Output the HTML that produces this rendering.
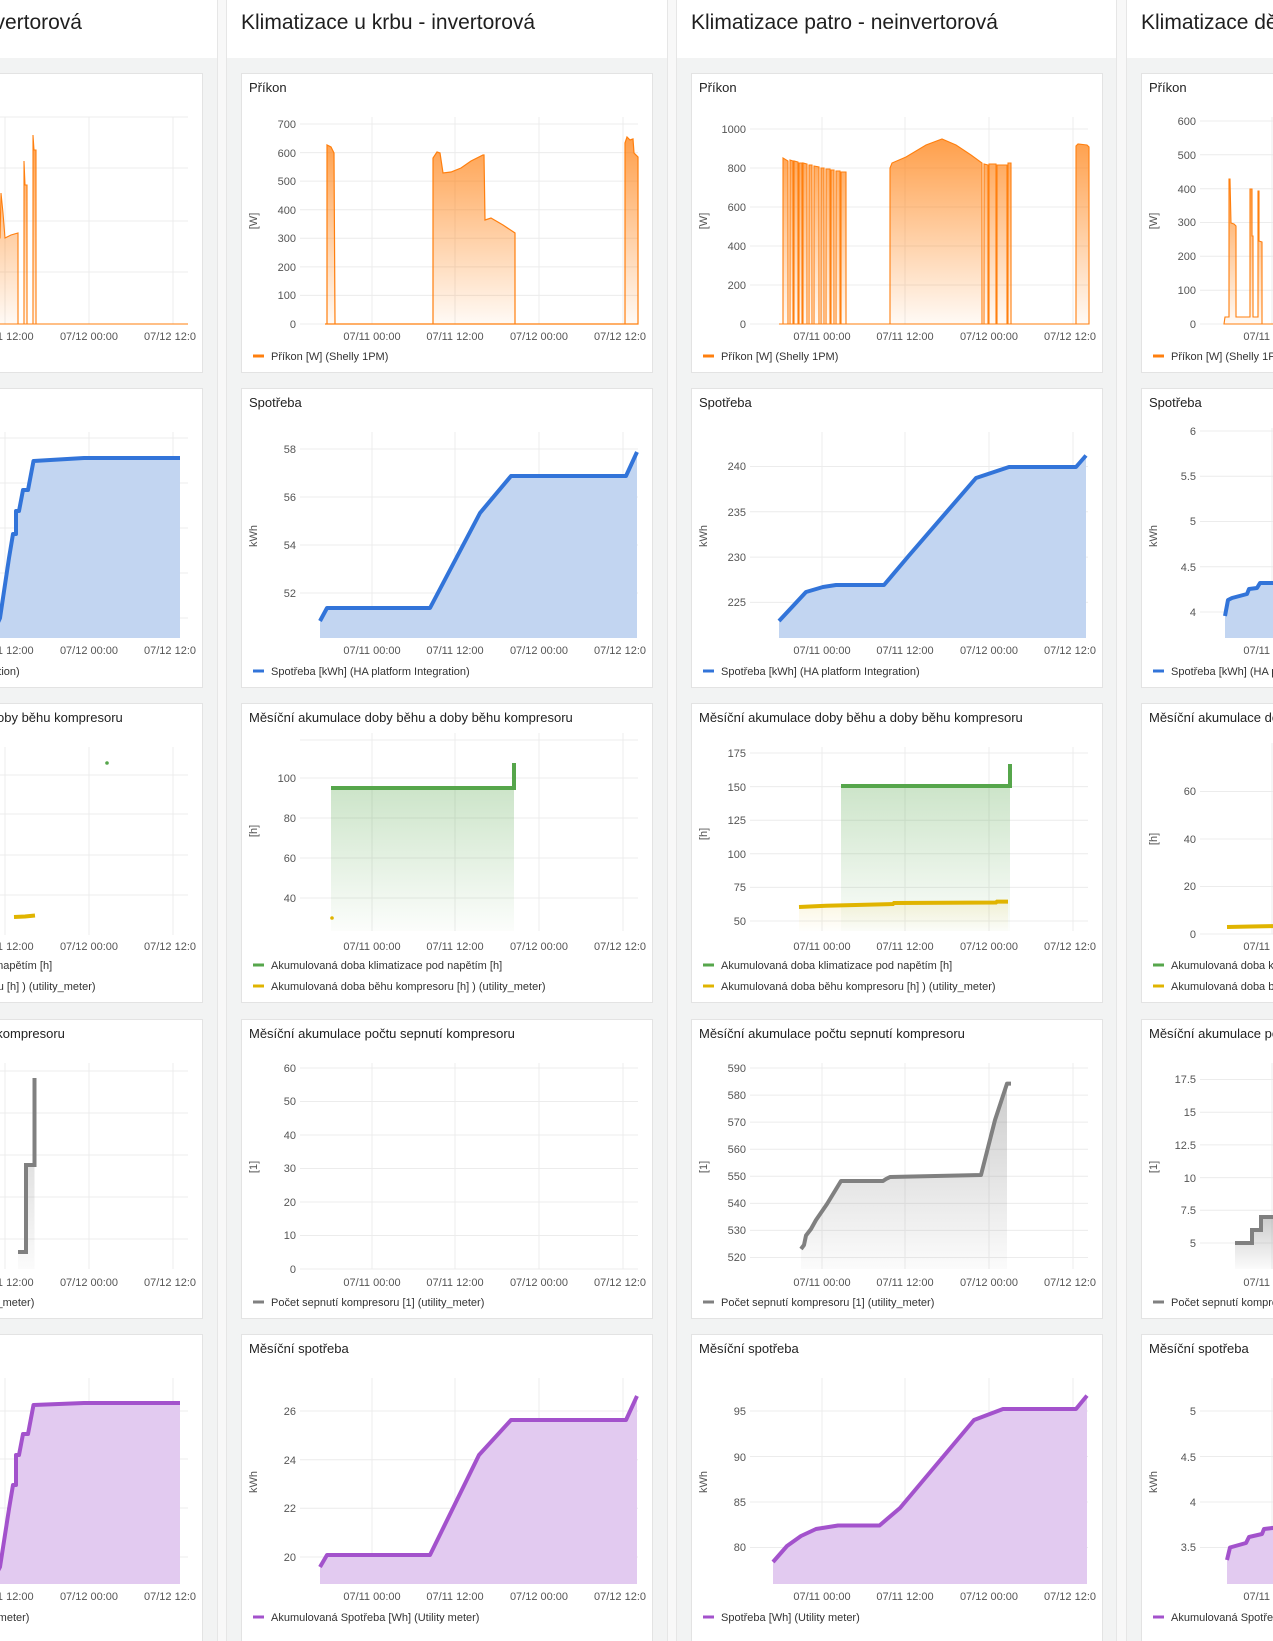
<!DOCTYPE html>
<html><head><meta charset="utf-8">
<style>
html,body{margin:0;padding:0;background:#f2f3f3;}
svg{display:block;font-family:"Liberation Sans",sans-serif;}
.h{font-size:21px;fill:#1f1f1f;}
.t{font-size:13px;fill:#222;}
.tk{font-size:11px;fill:#555;}
.lg{font-size:11px;fill:#333;}
.g{stroke:#ececec;stroke-width:1;fill:none;}
</style></head><body>
<svg width="1273" height="1641" viewBox="0 0 1273 1641" xmlns="http://www.w3.org/2000/svg">
<defs>
<linearGradient id="og" x1="0" y1="0" x2="0" y2="1"><stop offset="0" stop-color="#ff7f0e" stop-opacity="0.75"/><stop offset="1" stop-color="#ff7f0e" stop-opacity="0.04"/></linearGradient>
<linearGradient id="gg" x1="0" y1="0" x2="0" y2="1"><stop offset="0" stop-color="#56a64b" stop-opacity="0.3"/><stop offset="1" stop-color="#56a64b" stop-opacity="0.02"/></linearGradient>
<linearGradient id="yg" x1="0" y1="0" x2="0" y2="1"><stop offset="0" stop-color="#e0b400" stop-opacity="0.12"/><stop offset="1" stop-color="#e0b400" stop-opacity="0.01"/></linearGradient>
<linearGradient id="sg" x1="0" y1="0" x2="0" y2="1"><stop offset="0" stop-color="#808080" stop-opacity="0.4"/><stop offset="1" stop-color="#808080" stop-opacity="0.03"/></linearGradient>
</defs>

<rect x="217" y="0" width="9" height="1641" fill="#f8f8f8"/>
<rect x="667" y="0" width="9" height="1641" fill="#f8f8f8"/>
<rect x="1116" y="0" width="10" height="1641" fill="#f8f8f8"/>
<line x1="217.5" y1="0" x2="217.5" y2="1641" stroke="#e6e6e6"/>
<line x1="226.5" y1="0" x2="226.5" y2="1641" stroke="#e6e6e6"/>
<line x1="667.5" y1="0" x2="667.5" y2="1641" stroke="#e6e6e6"/>
<line x1="676.5" y1="0" x2="676.5" y2="1641" stroke="#e6e6e6"/>
<line x1="1116.5" y1="0" x2="1116.5" y2="1641" stroke="#e6e6e6"/>
<line x1="1126.5" y1="0" x2="1126.5" y2="1641" stroke="#e6e6e6"/>
<rect x="0" y="0" width="217" height="58" fill="#fff"/>
<rect x="227" y="0" width="440" height="58" fill="#fff"/>
<rect x="677" y="0" width="439" height="58" fill="#fff"/>
<rect x="1127" y="0" width="146" height="58" fill="#fff"/>
<text class="h" x="82" y="29" text-anchor="end">Klimatizace ložnice - invertorová</text>
<text class="h" x="241" y="29">Klimatizace u krbu - invertorová</text>
<text class="h" x="691" y="29">Klimatizace patro - neinvertorová</text>
<text class="h" x="1141" y="29">Klimatizace dětský pokoj</text>

<!-- ================= COLUMN 2 ================= -->
<g transform="translate(241,73)">
<rect x="0.5" y="0.5" width="411" height="299" fill="#fff" stroke="#e3e3e3"/>
<text class="t" x="8" y="19">Příkon</text>
<g class="g"><path d="M59,251H397M59,222.4H397M59,193.9H397M59,165.3H397M59,136.7H397M59,108.1H397M59,79.6H397M59,51H397M131,44V251M214,44V251M298,44V251M382,44V251"/></g>
<g class="tk" text-anchor="end"><text x="55" y="255">0</text><text x="55" y="226">100</text><text x="55" y="198">200</text><text x="55" y="169">300</text><text x="55" y="141">400</text><text x="55" y="112">500</text><text x="55" y="84">600</text><text x="55" y="55">700</text></g>
<text class="tk" transform="translate(16,148) rotate(-90)" text-anchor="middle">[W]</text>
<g class="tk" text-anchor="middle"><text x="131" y="267">07/11 00:00</text><text x="214" y="267">07/11 12:00</text><text x="298" y="267">07/12 00:00</text></g><text class="tk" x="353" y="267">07/12 12:0</text>
<path d="M84,251L86,251L86,72L90,74L93,80L94,251L192,251L192,85L196,79L199,80L202,100L210,99L220,95L230,88L242,82L243,82L244,147L250,145L262,152L274,160L274,251L384,251L384,70L386,64L389,67L392,66L393,80L397,84L397,251Z" fill="url(#og)" stroke="#ff7f0e" stroke-width="1.2"/>
<line x1="12" y1="283" x2="23" y2="283" stroke="#ff7f0e" stroke-width="3"/><text class="lg" x="30" y="287">Příkon [W] (Shelly 1PM)</text>
</g>

<g transform="translate(241,388)">
<rect x="0.5" y="0.5" width="411" height="299" fill="#fff" stroke="#e3e3e3"/>
<text class="t" x="8" y="19">Spotřeba</text>
<g class="g"><path d="M59,205H397M59,157H397M59,109H397M59,61H397M131,44V250M214,44V250M298,44V250M382,44V250"/></g>
<g class="tk" text-anchor="end"><text x="55" y="209">52</text><text x="55" y="161">54</text><text x="55" y="113">56</text><text x="55" y="65">58</text></g>
<text class="tk" transform="translate(16,148) rotate(-90)" text-anchor="middle">kWh</text>
<g class="tk" text-anchor="middle"><text x="131" y="266">07/11 00:00</text><text x="214" y="266">07/11 12:00</text><text x="298" y="266">07/12 00:00</text></g><text class="tk" x="353" y="266">07/12 12:0</text>
<path d="M79,233L86,220L189,220L239,125L270,88L385,88L396,64L396,250L79,250Z" fill="#c2d5f1"/>
<path d="M79,233L86,220L189,220L239,125L270,88L385,88L396,64" fill="none" stroke="#3274d9" stroke-width="4" stroke-linejoin="round"/>
<line x1="12" y1="283" x2="23" y2="283" stroke="#3274d9" stroke-width="3"/><text class="lg" x="30" y="287">Spotřeba [kWh] (HA platform Integration)</text>
</g>

<g transform="translate(241,703)">
<rect x="0.5" y="0.5" width="411" height="299" fill="#fff" stroke="#e3e3e3"/>
<text class="t" x="8" y="19">Měsíční akumulace doby běhu a doby běhu kompresoru</text>
<g class="g"><path d="M59,195H397M59,155H397M59,115H397M59,75H397M59,37H397M131,30V228M214,30V228M298,30V228M382,30V228"/></g>
<g class="tk" text-anchor="end"><text x="55" y="199">40</text><text x="55" y="159">60</text><text x="55" y="119">80</text><text x="55" y="79">100</text></g>
<text class="tk" transform="translate(16,128) rotate(-90)" text-anchor="middle">[h]</text>
<g class="tk" text-anchor="middle"><text x="131" y="247">07/11 00:00</text><text x="214" y="247">07/11 12:00</text><text x="298" y="247">07/12 00:00</text></g><text class="tk" x="353" y="247">07/12 12:0</text>
<path d="M90,85L273,85L273,228L90,228Z" fill="url(#gg)"/>
<path d="M90,85L273,85L273,60" fill="none" stroke="#56a64b" stroke-width="4"/>
<circle cx="91" cy="215" r="1.8" fill="#e0b400"/>
<line x1="12" y1="262" x2="23" y2="262" stroke="#56a64b" stroke-width="3"/><text class="lg" x="30" y="266">Akumulovaná doba klimatizace pod napětím [h]</text>
<line x1="12" y1="283" x2="23" y2="283" stroke="#e0b400" stroke-width="3"/><text class="lg" x="30" y="287">Akumulovaná doba běhu kompresoru [h] ) (utility_meter)</text>
</g>

<g transform="translate(241,1019)">
<rect x="0.5" y="0.5" width="411" height="299" fill="#fff" stroke="#e3e3e3"/>
<text class="t" x="8" y="19">Měsíční akumulace počtu sepnutí kompresoru</text>
<g class="g"><path d="M59,250H397M59,216.5H397M59,183H397M59,149.5H397M59,116H397M59,82.5H397M59,49H397M131,44V250M214,44V250M298,44V250M382,44V250"/></g>
<g class="tk" text-anchor="end"><text x="55" y="254">0</text><text x="55" y="220">10</text><text x="55" y="187">20</text><text x="55" y="153">30</text><text x="55" y="120">40</text><text x="55" y="86">50</text><text x="55" y="53">60</text></g>
<text class="tk" transform="translate(16,148) rotate(-90)" text-anchor="middle">[1]</text>
<g class="tk" text-anchor="middle"><text x="131" y="267">07/11 00:00</text><text x="214" y="267">07/11 12:00</text><text x="298" y="267">07/12 00:00</text></g><text class="tk" x="353" y="267">07/12 12:0</text>
<line x1="12" y1="283" x2="23" y2="283" stroke="#808080" stroke-width="3"/><text class="lg" x="30" y="287">Počet sepnutí kompresoru [1] (utility_meter)</text>
</g>

<g transform="translate(241,1334)">
<rect x="0.5" y="0.5" width="411" height="310" fill="#fff" stroke="#e3e3e3"/>
<text class="t" x="8" y="19">Měsíční spotřeba</text>
<g class="g"><path d="M59,223H397M59,174.3H397M59,125.7H397M59,77H397M131,44V250M214,44V250M298,44V250M382,44V250"/></g>
<g class="tk" text-anchor="end"><text x="55" y="227">20</text><text x="55" y="178">22</text><text x="55" y="130">24</text><text x="55" y="81">26</text></g>
<text class="tk" transform="translate(16,148) rotate(-90)" text-anchor="middle">kWh</text>
<g class="tk" text-anchor="middle"><text x="131" y="266">07/11 00:00</text><text x="214" y="266">07/11 12:00</text><text x="298" y="266">07/12 00:00</text></g><text class="tk" x="353" y="266">07/12 12:0</text>
<path d="M79,233L86,221L189,221L238,121L270,86L385,86L396,62L396,250L79,250Z" fill="#e2caf0"/>
<path d="M79,233L86,221L189,221L238,121L270,86L385,86L396,62" fill="none" stroke="#a352cc" stroke-width="4" stroke-linejoin="round"/>
<line x1="12" y1="283" x2="23" y2="283" stroke="#a352cc" stroke-width="3"/><text class="lg" x="30" y="287">Akumulovaná Spotřeba [Wh] (Utility meter)</text>
</g>

<!-- ================= COLUMN 3 ================= -->
<g transform="translate(691,73)">
<rect x="0.5" y="0.5" width="411" height="299" fill="#fff" stroke="#e3e3e3"/>
<text class="t" x="8" y="19">Příkon</text>
<g class="g"><path d="M59,251H397M59,212H397M59,173H397M59,134H397M59,95H397M59,56H397M131,44V251M214,44V251M298,44V251M382,44V251"/></g>
<g class="tk" text-anchor="end"><text x="55" y="255">0</text><text x="55" y="216">200</text><text x="55" y="177">400</text><text x="55" y="138">600</text><text x="55" y="99">800</text><text x="55" y="60">1000</text></g>
<text class="tk" transform="translate(16,148) rotate(-90)" text-anchor="middle">[W]</text>
<g class="tk" text-anchor="middle"><text x="131" y="267">07/11 00:00</text><text x="214" y="267">07/11 12:00</text><text x="298" y="267">07/12 00:00</text></g><text class="tk" x="353" y="267">07/12 12:0</text>
<path d="M88,251L92,251L92,85L97,88L97,251L99,251L99,87L102,88L102,251L103,251L103,88L107,89L107,251L108,251L108,90L111,90L111,251L112,251L112,90L116,91L116,251L118,251L118,92L121,92L121,251L123,251L123,93L128,94L128,251L130,251L130,95L133,95L133,251L135,251L135,96L139,96L139,251L140,251L140,97L143,97L143,251L145,251L145,98L149,98L149,251L150,251L150,99L155,99L155,251L199,251L199,95L201,90L215,84L235,72L251,66L265,72L280,82L291,90L291,251L293,251L293,91L297,92L297,251L298,251L298,91L305,91L305,251L306,251L306,92L316,92L316,251L317,251L317,90L320,90L320,251L385,251L385,73L387,71L396,72L398,74L398,251Z" fill="url(#og)" stroke="#ff7f0e" stroke-width="1.1"/>
<line x1="12" y1="283" x2="23" y2="283" stroke="#ff7f0e" stroke-width="3"/><text class="lg" x="30" y="287">Příkon [W] (Shelly 1PM)</text>
</g>

<g transform="translate(691,388)">
<rect x="0.5" y="0.5" width="411" height="299" fill="#fff" stroke="#e3e3e3"/>
<text class="t" x="8" y="19">Spotřeba</text>
<g class="g"><path d="M59,214.4H397M59,169.1H397M59,123.8H397M59,78.5H397M131,44V250M214,44V250M298,44V250M382,44V250"/></g>
<g class="tk" text-anchor="end"><text x="55" y="218">225</text><text x="55" y="173">230</text><text x="55" y="128">235</text><text x="55" y="82">240</text></g>
<text class="tk" transform="translate(16,148) rotate(-90)" text-anchor="middle">kWh</text>
<g class="tk" text-anchor="middle"><text x="131" y="266">07/11 00:00</text><text x="214" y="266">07/11 12:00</text><text x="298" y="266">07/12 00:00</text></g><text class="tk" x="353" y="266">07/12 12:0</text>
<path d="M88,233L102,218L115,204L132,199L145,197L193,197L218,167.5L285,90L318,79L385,79L395,67.5L395,250L88,250Z" fill="#c2d5f1"/>
<path d="M88,233L102,218L115,204L132,199L145,197L193,197L218,167.5L285,90L318,79L385,79L395,67.5" fill="none" stroke="#3274d9" stroke-width="4" stroke-linejoin="round"/>
<line x1="12" y1="283" x2="23" y2="283" stroke="#3274d9" stroke-width="3"/><text class="lg" x="30" y="287">Spotřeba [kWh] (HA platform Integration)</text>
</g>

<g transform="translate(691,703)">
<rect x="0.5" y="0.5" width="411" height="299" fill="#fff" stroke="#e3e3e3"/>
<text class="t" x="8" y="19">Měsíční akumulace doby běhu a doby běhu kompresoru</text>
<g class="g"><path d="M59,218H397M59,184.4H397M59,150.8H397M59,117.2H397M59,83.6H397M59,50H397M131,44V228M214,44V228M298,44V228M382,44V228"/></g>
<g class="tk" text-anchor="end"><text x="55" y="222">50</text><text x="55" y="188">75</text><text x="55" y="155">100</text><text x="55" y="121">125</text><text x="55" y="88">150</text><text x="55" y="54">175</text></g>
<text class="tk" transform="translate(16,131) rotate(-90)" text-anchor="middle">[h]</text>
<g class="tk" text-anchor="middle"><text x="131" y="247">07/11 00:00</text><text x="214" y="247">07/11 12:00</text><text x="298" y="247">07/12 00:00</text></g><text class="tk" x="353" y="247">07/12 12:0</text>
<path d="M150,83L319,83L319,228L150,228Z" fill="url(#gg)"/>
<path d="M108,204L135,202.7L202,200L305,198.6L317,198.6L317,228L108,228Z" fill="url(#yg)"/>
<path d="M150,83L319,83L319,61" fill="none" stroke="#56a64b" stroke-width="4"/>
<path d="M108,204L135,202.7L202,201L203,200L305,199.5L306,198.6L317,198.6" fill="none" stroke="#e0b400" stroke-width="4"/>
<line x1="12" y1="262" x2="23" y2="262" stroke="#56a64b" stroke-width="3"/><text class="lg" x="30" y="266">Akumulovaná doba klimatizace pod napětím [h]</text>
<line x1="12" y1="283" x2="23" y2="283" stroke="#e0b400" stroke-width="3"/><text class="lg" x="30" y="287">Akumulovaná doba běhu kompresoru [h] ) (utility_meter)</text>
</g>

<g transform="translate(691,1019)">
<rect x="0.5" y="0.5" width="411" height="299" fill="#fff" stroke="#e3e3e3"/>
<text class="t" x="8" y="19">Měsíční akumulace počtu sepnutí kompresoru</text>
<g class="g"><path d="M59,238.5H397M59,211.4H397M59,184.4H397M59,157.3H397M59,130.2H397M59,103.1H397M59,76.1H397M59,49H397M131,44V250M214,44V250M298,44V250M382,44V250"/></g>
<g class="tk" text-anchor="end"><text x="55" y="242">520</text><text x="55" y="215">530</text><text x="55" y="188">540</text><text x="55" y="161">550</text><text x="55" y="134">560</text><text x="55" y="107">570</text><text x="55" y="80">580</text><text x="55" y="53">590</text></g>
<text class="tk" transform="translate(16,148) rotate(-90)" text-anchor="middle">[1]</text>
<g class="tk" text-anchor="middle"><text x="131" y="267">07/11 00:00</text><text x="214" y="267">07/11 12:00</text><text x="298" y="267">07/12 00:00</text></g><text class="tk" x="353" y="267">07/12 12:0</text>
<path d="M110,230L113,226L115,216.5L120,210L125,201L136,185L150,162L192,162L195,160L199,158L290,156L304,101L316,64.6L316,250L110,250Z" fill="url(#sg)"/>
<path d="M110,230L113,226L115,216.5L120,210L125,201L136,185L150,162L192,162L195,160L199,158L290,156L304,101L316,64.6L320,64.6" fill="none" stroke="#808080" stroke-width="4" stroke-linejoin="round"/>
<line x1="12" y1="283" x2="23" y2="283" stroke="#808080" stroke-width="3"/><text class="lg" x="30" y="287">Počet sepnutí kompresoru [1] (utility_meter)</text>
</g>

<g transform="translate(691,1334)">
<rect x="0.5" y="0.5" width="411" height="310" fill="#fff" stroke="#e3e3e3"/>
<text class="t" x="8" y="19">Měsíční spotřeba</text>
<g class="g"><path d="M59,213.5H397M59,168H397M59,122.5H397M59,77H397M131,44V250M214,44V250M298,44V250M382,44V250"/></g>
<g class="tk" text-anchor="end"><text x="55" y="217">80</text><text x="55" y="172">85</text><text x="55" y="127">90</text><text x="55" y="81">95</text></g>
<text class="tk" transform="translate(16,148) rotate(-90)" text-anchor="middle">kWh</text>
<g class="tk" text-anchor="middle"><text x="131" y="266">07/11 00:00</text><text x="214" y="266">07/11 12:00</text><text x="298" y="266">07/12 00:00</text></g><text class="tk" x="353" y="266">07/12 12:0</text>
<path d="M82,228L96,212L110,202L125,195L147,191.5L188.5,191.5L209,174L283,86L312,75L385,75L396,61.6L396,250L82,250Z" fill="#e2caf0"/>
<path d="M82,228L96,212L110,202L125,195L147,191.5L188.5,191.5L209,174L283,86L312,75L385,75L396,61.6" fill="none" stroke="#a352cc" stroke-width="4" stroke-linejoin="round"/>
<line x1="12" y1="283" x2="23" y2="283" stroke="#a352cc" stroke-width="3"/><text class="lg" x="30" y="287">Spotřeba [Wh] (Utility meter)</text>
</g>

<!-- ================= COLUMN 4 ================= -->
<g transform="translate(1141,73)">
<rect x="0.5" y="0.5" width="411" height="299" fill="#fff" stroke="#e3e3e3"/>
<text class="t" x="8" y="19">Příkon</text>
<g class="g"><path d="M59,251H397M59,217.2H397M59,183.3H397M59,149.5H397M59,115.7H397M59,81.8H397M59,48H397M131,44V251"/></g>
<g class="tk" text-anchor="end"><text x="55" y="255">0</text><text x="55" y="221">100</text><text x="55" y="187">200</text><text x="55" y="153">300</text><text x="55" y="120">400</text><text x="55" y="86">500</text><text x="55" y="52">600</text></g>
<text class="tk" transform="translate(16,148) rotate(-90)" text-anchor="middle">[W]</text>
<text class="tk" x="131" y="267" text-anchor="middle">07/11 00:00</text>
<path d="M83,251L84,244L88,244L88,106L89,106L90,150L93,151L95,153L95,244L109,244L109,116L111,116L111,163L112,163L112,244L117,244L117,118L118,118L118,168L121,169L121,251L140,251Z" fill="url(#og)" stroke="#ff7f0e" stroke-width="1.1"/>
<line x1="12" y1="283" x2="23" y2="283" stroke="#ff7f0e" stroke-width="3"/><text class="lg" x="30" y="287">Příkon [W] (Shelly 1PM)</text>
</g>

<g transform="translate(1141,388)">
<rect x="0.5" y="0.5" width="411" height="299" fill="#fff" stroke="#e3e3e3"/>
<text class="t" x="8" y="19">Spotřeba</text>
<g class="g"><path d="M59,224H397M59,178.8H397M59,133.5H397M59,88.3H397M59,43H397M131,40V250"/></g>
<g class="tk" text-anchor="end"><text x="55" y="228">4</text><text x="55" y="183">4.5</text><text x="55" y="137">5</text><text x="55" y="92">5.5</text><text x="55" y="47">6</text></g>
<text class="tk" transform="translate(16,148) rotate(-90)" text-anchor="middle">kWh</text>
<text class="tk" x="131" y="266" text-anchor="middle">07/11 00:00</text>
<path d="M84,228L87,212L91,210L106,206L108,201L116,200L119,195L140,195L140,250L84,250Z" fill="#c2d5f1"/>
<path d="M84,228L87,212L91,210L106,206L108,201L116,200L119,195L140,195" fill="none" stroke="#3274d9" stroke-width="4" stroke-linejoin="round"/>
<line x1="12" y1="283" x2="23" y2="283" stroke="#3274d9" stroke-width="3"/><text class="lg" x="30" y="287">Spotřeba [kWh] (HA platform Integration)</text>
</g>

<g transform="translate(1141,703)">
<rect x="0.5" y="0.5" width="411" height="299" fill="#fff" stroke="#e3e3e3"/>
<text class="t" x="8" y="19">Měsíční akumulace doby běhu a doby běhu kompresoru</text>
<g class="g"><path d="M59,231H397M59,183.5H397M59,136H397M59,88.5H397M131,40V231"/></g>
<g class="tk" text-anchor="end"><text x="55" y="235">0</text><text x="55" y="187">20</text><text x="55" y="140">40</text><text x="55" y="92">60</text></g>
<text class="tk" transform="translate(16,136) rotate(-90)" text-anchor="middle">[h]</text>
<text class="tk" x="131" y="247" text-anchor="middle">07/11 00:00</text>
<path d="M86,224L110,223.5L140,223" fill="none" stroke="#e0b400" stroke-width="4"/>
<line x1="12" y1="262" x2="23" y2="262" stroke="#56a64b" stroke-width="3"/><text class="lg" x="30" y="266">Akumulovaná doba klimatizace pod napětím [h]</text>
<line x1="12" y1="283" x2="23" y2="283" stroke="#e0b400" stroke-width="3"/><text class="lg" x="30" y="287">Akumulovaná doba běhu kompresoru [h] ) (utility_meter)</text>
</g>

<g transform="translate(1141,1019)">
<rect x="0.5" y="0.5" width="411" height="299" fill="#fff" stroke="#e3e3e3"/>
<text class="t" x="8" y="19">Měsíční akumulace počtu sepnutí kompresoru</text>
<g class="g"><path d="M59,224H397M59,191.3H397M59,158.6H397M59,125.9H397M59,93.2H397M59,60.5H397M131,44V250"/></g>
<g class="tk" text-anchor="end"><text x="55" y="228">5</text><text x="55" y="195">7.5</text><text x="55" y="163">10</text><text x="55" y="130">12.5</text><text x="55" y="97">15</text><text x="55" y="64">17.5</text></g>
<text class="tk" transform="translate(16,148) rotate(-90)" text-anchor="middle">[1]</text>
<text class="tk" x="131" y="267" text-anchor="middle">07/11 00:00</text>
<path d="M94,224L111,224L111,211L120,211L120,198L140,198L140,250L94,250Z" fill="url(#sg)"/>
<path d="M94,224L111,224L111,211L120,211L120,198L140,198" fill="none" stroke="#808080" stroke-width="4"/>
<line x1="12" y1="283" x2="23" y2="283" stroke="#808080" stroke-width="3"/><text class="lg" x="30" y="287">Počet sepnutí kompresoru [1] (utility_meter)</text>
</g>

<g transform="translate(1141,1334)">
<rect x="0.5" y="0.5" width="411" height="310" fill="#fff" stroke="#e3e3e3"/>
<text class="t" x="8" y="19">Měsíční spotřeba</text>
<g class="g"><path d="M59,213.5H397M59,168H397M59,122.5H397M59,77H397M131,44V250"/></g>
<g class="tk" text-anchor="end"><text x="55" y="217">3.5</text><text x="55" y="172">4</text><text x="55" y="127">4.5</text><text x="55" y="81">5</text></g>
<text class="tk" transform="translate(16,148) rotate(-90)" text-anchor="middle">kWh</text>
<text class="tk" x="131" y="266" text-anchor="middle">07/11 00:00</text>
<path d="M86,226L89,213.5L105,209L108,203L121,200L123,195L140,193L140,250L86,250Z" fill="#e2caf0"/>
<path d="M86,226L89,213.5L105,209L108,203L121,200L123,195L140,193" fill="none" stroke="#a352cc" stroke-width="4" stroke-linejoin="round"/>
<line x1="12" y1="283" x2="23" y2="283" stroke="#a352cc" stroke-width="3"/><text class="lg" x="30" y="287">Akumulovaná Spotřeba [Wh] (Utility meter)</text>
</g>

<!-- ================= COLUMN 1 ================= -->
<g transform="translate(-209,73)">
<rect x="0.5" y="0.5" width="411" height="299" fill="#fff" stroke="#e3e3e3"/>
<text class="t" x="8" y="19">Příkon</text>
<g class="g"><path d="M59,251H397M59,199H397M59,148H397M59,95H397M59,44H397M131,44V251M214,44V251M298,44V251M382,44V251"/></g>
<g class="tk" text-anchor="middle"><text x="131" y="267">07/11 00:00</text><text x="214" y="267">07/11 12:00</text><text x="298" y="267">07/12 00:00</text></g><text class="tk" x="353" y="267">07/12 12:0</text>
<path d="M190,251L190,150L195,140L198,160L200,251L205,251L205,165L209,165L210,120L212,140L214,165L220,162L227,160L227,251L233,251L233,88L234,112L236,112L236,251L242,251L242,62L243,77L245,77L245,251L397,251Z" fill="url(#og)" stroke="#ff7f0e" stroke-width="1.1"/>
<line x1="12" y1="283" x2="23" y2="283" stroke="#ff7f0e" stroke-width="3"/><text class="lg" x="30" y="287">Příkon [W] (Shelly 1PM)</text>
</g>

<g transform="translate(-209,388)">
<rect x="0.5" y="0.5" width="411" height="299" fill="#fff" stroke="#e3e3e3"/>
<text class="t" x="8" y="19">Spotřeba</text>
<g class="g"><path d="M59,230H397M59,185H397M59,140H397M59,95H397M59,50H397M131,44V250M214,44V250M298,44V250M382,44V250"/></g>
<g class="tk" text-anchor="middle"><text x="131" y="266">07/11 00:00</text><text x="214" y="266">07/11 12:00</text><text x="298" y="266">07/12 00:00</text></g><text class="tk" x="353" y="266">07/12 12:0</text>
<path d="M200,250L209,230L218,170L222,146L225,146L225,123L228,123L232,102L237,102L242.5,73L293,70L389,70L389,250Z" fill="#c2d5f1"/>
<path d="M200,250L209,230L218,170L222,146L225,146L225,123L228,123L232,102L237,102L242.5,73L293,70L389,70" fill="none" stroke="#3274d9" stroke-width="4" stroke-linejoin="round"/>
<line x1="12" y1="283" x2="23" y2="283" stroke="#3274d9" stroke-width="3"/><text class="lg" x="30" y="287">Spotřeba [kWh] (HA platform Integration)</text>
</g>

<g transform="translate(-209,703)">
<rect x="0.5" y="0.5" width="411" height="299" fill="#fff" stroke="#e3e3e3"/>
<text class="t" x="8" y="19">Měsíční akumulace doby běhu a doby běhu kompresoru</text>
<g class="g"><path d="M59,192H397M59,152H397M59,111H397M59,72H397M131,44V232M214,44V232M298,44V232M382,44V232"/></g>
<g class="tk" text-anchor="middle"><text x="131" y="247">07/11 00:00</text><text x="214" y="247">07/11 12:00</text><text x="298" y="247">07/12 00:00</text></g><text class="tk" x="353" y="247">07/12 12:0</text>
<circle cx="316" cy="60" r="1.8" fill="#56a64b"/>
<path d="M223,214L234,213.5L244,212.5" fill="none" stroke="#e0b400" stroke-width="4"/>
<line x1="12" y1="262" x2="23" y2="262" stroke="#56a64b" stroke-width="3"/><text class="lg" x="30" y="266">Akumulovaná doba klimatizace pod napětím [h]</text>
<line x1="12" y1="283" x2="23" y2="283" stroke="#e0b400" stroke-width="3"/><text class="lg" x="30" y="287">Akumulovaná doba běhu kompresoru [h] ) (utility_meter)</text>
</g>

<g transform="translate(-209,1019)">
<rect x="0.5" y="0.5" width="411" height="299" fill="#fff" stroke="#e3e3e3"/>
<text class="t" x="8" y="19">Měsíční akumulace počtu sepnutí kompresoru</text>
<g class="g"><path d="M59,220H397M59,178H397M59,136H397M59,94H397M59,52H397M131,44V250M214,44V250M298,44V250M382,44V250"/></g>
<g class="tk" text-anchor="middle"><text x="131" y="267">07/11 00:00</text><text x="214" y="267">07/11 12:00</text><text x="298" y="267">07/12 00:00</text></g><text class="tk" x="353" y="267">07/12 12:0</text>
<path d="M227,233L235,233L235,146L243.5,146L243.5,59L243.5,250L227,250Z" fill="url(#sg)"/>
<path d="M227,233L235,233L235,146L243.5,146L243.5,59" fill="none" stroke="#808080" stroke-width="4"/>
<line x1="12" y1="283" x2="23" y2="283" stroke="#808080" stroke-width="3"/><text class="lg" x="30" y="287">Počet sepnutí kompresoru [1] (utility_meter)</text>
</g>

<g transform="translate(-209,1334)">
<rect x="0.5" y="0.5" width="411" height="310" fill="#fff" stroke="#e3e3e3"/>
<text class="t" x="8" y="19">Měsíční spotřeba</text>
<g class="g"><path d="M59,223H397M59,174H397M59,125H397M59,77H397M131,44V250M214,44V250M298,44V250M382,44V250"/></g>
<g class="tk" text-anchor="middle"><text x="131" y="266">07/11 00:00</text><text x="214" y="266">07/11 12:00</text><text x="298" y="266">07/12 00:00</text></g><text class="tk" x="353" y="266">07/12 12:0</text>
<path d="M200,250L209,233L218,175L222,151L225,151L225,121L228,121L232,100L237,100L242.5,71L293,69L389,69L389,250Z" fill="#e2caf0"/>
<path d="M200,250L209,233L218,175L222,151L225,151L225,121L228,121L232,100L237,100L242.5,71L293,69L389,69" fill="none" stroke="#a352cc" stroke-width="4" stroke-linejoin="round"/>
<line x1="12" y1="283" x2="23" y2="283" stroke="#a352cc" stroke-width="3"/><text class="lg" x="30" y="287">Akumulovaná Spotřeba [Wh] (Utility meter)</text>
</g>
</svg>
</body></html>
